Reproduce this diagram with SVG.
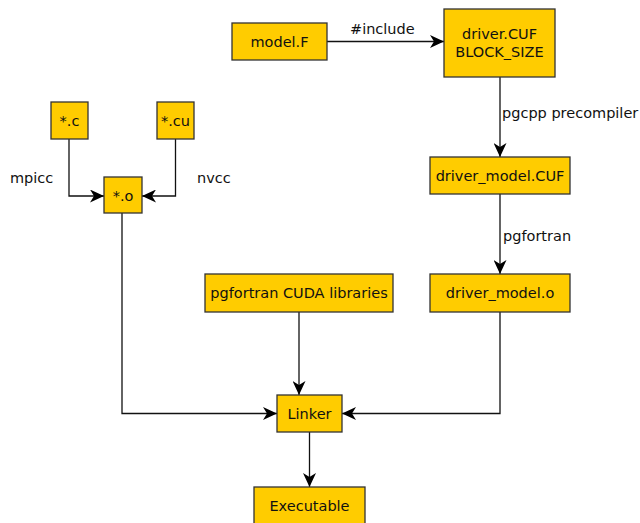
<svg xmlns="http://www.w3.org/2000/svg" width="640" height="523" viewBox="0 0 640 523">
<style>
.box{fill:#ffcc00;stroke:#333;stroke-width:1.3}
.t{font-family:"DejaVu Sans",sans-serif;font-size:14.5px;fill:#111;text-anchor:middle;dominant-baseline:central}
.l{font-family:"DejaVu Sans",sans-serif;font-size:14.5px;fill:#111}
.c{fill:none;stroke:#111;stroke-width:1.3}
</style>
<defs>
<marker id="a" viewBox="0 0 14 13" refX="14" refY="6.5" markerWidth="14" markerHeight="13" markerUnits="userSpaceOnUse" orient="auto">
<path d="M0,0 L14,6.5 L0,13 L4,6.5 z" fill="#000"/>
</marker>
</defs>
<g id="connectors">
<path class="c" d="M327,41.5 H444" marker-end="url(#a)"/>
<path class="c" d="M500,77 V157" marker-end="url(#a)"/>
<path class="c" d="M500,194 V274" marker-end="url(#a)"/>
<path class="c" d="M69,139 V196 H104" marker-end="url(#a)"/>
<path class="c" d="M175.5,139 V196 H142" marker-end="url(#a)"/>
<path class="c" d="M122,213 V413.5 H277" marker-end="url(#a)"/>
<path class="c" d="M500,312 V413.5 H342" marker-end="url(#a)"/>
<path class="c" d="M299,312 V395" marker-end="url(#a)"/>
<path class="c" d="M309.5,432 V487" marker-end="url(#a)"/>
<text class="l" x="350" y="34">#include</text>
<text class="l" x="502" y="118">pgcpp precompiler</text>
<text class="l" x="503" y="241">pgfortran</text>
<text class="l" x="10" y="183">mpicc</text>
<text class="l" x="197" y="183">nvcc</text>
</g>
<g id="modelF"><rect class="box" x="232" y="23" width="95" height="37"/><text class="t" x="279.5" y="41.5">model.F</text></g>
<g id="driverCUF"><rect class="box" x="444" y="9" width="111" height="68"/><text class="t" x="499.5" y="34">driver.CUF</text><text class="t" x="499.5" y="52">BLOCK_SIZE</text></g>
<g id="c"><rect class="box" x="51" y="102" width="37" height="37"/><text class="t" x="69.5" y="120.5">*.c</text></g>
<g id="cu"><rect class="box" x="157" y="102" width="37" height="37"/><text class="t" x="175.5" y="120.5">*.cu</text></g>
<g id="o"><rect class="box" x="104" y="177" width="38" height="36"/><text class="t" x="123" y="195.5">*.o</text></g>
<g id="driverModelCUF"><rect class="box" x="430" y="157" width="140" height="37"/><text class="t" x="500" y="175.5">driver_model.CUF</text></g>
<g id="driverModelO"><rect class="box" x="430" y="274" width="140" height="38"/><text class="t" x="500" y="293">driver_model.o</text></g>
<g id="libs"><rect class="box" x="205" y="274" width="188" height="38"/><text class="t" x="299" y="293">pgfortran CUDA libraries</text></g>
<g id="linker"><rect class="box" x="277" y="395" width="65" height="37"/><text class="t" x="309.5" y="413.5">Linker</text></g>
<g id="executable"><rect class="box" x="254" y="487" width="111" height="37"/><text class="t" x="309.5" y="506">Executable</text></g>
</svg>
